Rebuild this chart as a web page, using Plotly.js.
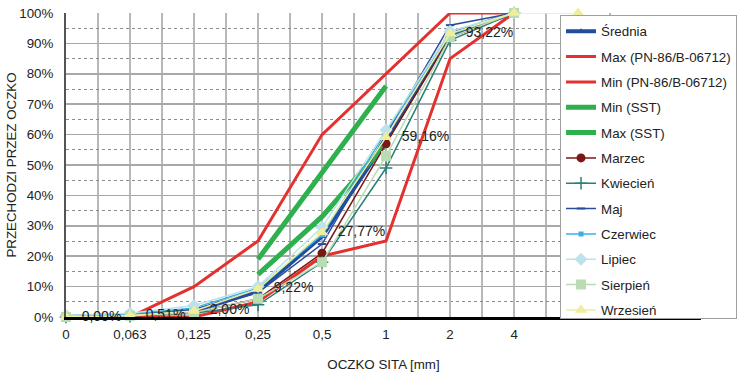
<!DOCTYPE html>
<html>
<head>
<meta charset="utf-8">
<script src="https://cdn.plot.ly/plotly-3.0.1.min.js"></script>
<style>html,body{margin:0;padding:0;background:#fff;}#chart{width:749px;height:375px;}</style>
</head>
<body>
<div id="chart"></div>
<script>
// Categories (sieve sizes, mm); the last category has no label
const categories = ['0', '0,063', '0,125', '0,25', '0,5', '1', '2', '4', ''];

// Series values (% passing)
const srednia   = [0, 0.5, 2.0, 8.5, 26.5, 58.0, 93.0, 100];
const maxPN     = [0, 0, 10, 25, 60, 80, 100, 100];
const minPN     = [0, 0, 0, 5, 20, 25, 85, 100];
const minSST    = [null, null, null, 14, 33, 57];
const maxSST    = [null, null, null, 19, 47.5, 76];
const marzec    = [0, 0.5, 1.5, 6, 21, 57, 92, 100];
const kwiecien  = [0, 0.3, 1.2, 4, 18, 49, 91, 100];
const maj       = [0, 0.8, 2.5, 8, 24, 60, 96, 100];
const czerwiec  = [0.5, 1.0, 3.0, 9.5, 27, 61, 93, 100];
const lipiec    = [0.5, 1.2, 3.8, 10, 29.5, 61.5, 94, 100];
const sierpien  = [0, 0.4, 1.5, 6, 18, 53, 92, 100];
const wrzesien  = [0, 0.51, 2.00, 9.22, 27.77, 59.16, 93.22, 100, 100];

const xs = arr => arr.map((_, i) => i);
const font = 'Liberation Sans, Arial, sans-serif';
const FS = 13.33;

function tr(name, y, color, width, marker, extra) {
  const t = {
    type: 'scatter', mode: marker ? 'lines+markers' : 'lines', name: name,
    x: xs(y), y: y, legendgroup: name, connectgaps: false,
    line: {color: color, width: width},
    hoverinfo: 'skip', cliponaxis: false
  };
  if (marker) t.marker = marker;
  return Object.assign(t, extra || {});
}

const labelText = wrzesien.map((v, i) => i < 7 ? '\u00a0\u00a0' + v.toFixed(2).replace('.', ',') + '%' : '');

const data = [
  tr('Średnia', srednia, '#1F4E9E', 4, {symbol: 'triangle-up', size: 6, color: '#1F4E9E'}),
  tr('Max (PN-86/B-06712)', maxPN, '#E4312F', 3),
  tr('Min (PN-86/B-06712)', minPN, '#E4312F', 3),
  tr('Min (SST)', minSST, '#2EB04E', 5),
  tr('Max (SST)', maxSST, '#2EB04E', 5),
  tr('Marzec', marzec, '#7A1818', 1.5, {symbol: 'circle', size: 9, color: '#7A1818'}),
  tr('Kwiecień', kwiecien, '#2A7F78', 1.5, {symbol: 'cross-thin', size: 9, color: '#2A7F78', line: {color: '#2A7F78', width: 1.5}}),
  tr('Maj', maj, '#2B4C9B', 1.5, {symbol: 'line-ew', size: 6, color: '#2B4C9B', line: {color: '#2B4C9B', width: 2}}),
  tr('Czerwiec', czerwiec, '#3CB0E0', 1.5, {symbol: 'square', size: 5, color: '#3CB0E0'}),
  tr('Lipiec', lipiec, '#BDE2EC', 1.5, {symbol: 'diamond', size: 10, color: '#BDE2EC'}),
  tr('Sierpień', sierpien, '#B9DCB3', 1.5, {symbol: 'square', size: 10, color: '#B9DCB3'}),
  tr('Wrzesień', wrzesien, '#EFEE9C', 1.5, {symbol: 'triangle-up', size: 11, color: '#EFEE9C'},
     {mode: 'lines+markers+text', text: labelText, textposition: 'middle right',
      textfont: {family: font, size: 14, color: '#222'}})
];

const tickIdx = categories.map((_, i) => i);
const minorIdx = categories.map((_, i) => i + 0.5);

const layout = {
  width: 749, height: 375,
  margin: {l: 66, r: 35, t: 13, b: 58},
  paper_bgcolor: '#fff', plot_bgcolor: '#fff',
  font: {family: font, size: FS, color: '#222'},
  showlegend: true,
  legend: {
    x: 0.778, xanchor: 'left', y: 0.993, yanchor: 'top',
    bgcolor: '#fff', bordercolor: '#A0A0A0', borderwidth: 1,
    font: {family: font, size: FS, color: '#222'},
    traceorder: 'grouped', tracegroupgap: 5
  },
  xaxis: {
    range: [0, 9.92], tickmode: 'array', tickvals: tickIdx, ticktext: categories,
    showgrid: true, gridcolor: '#B8B8B8', gridwidth: 1.5,
    minor: {tickmode: 'array', tickvals: minorIdx, showgrid: true, gridcolor: '#B8B8B8', gridwidth: 1.5},
    showline: true, linecolor: '#000', linewidth: 3, zeroline: false, ticks: '',
    ticklabelstandoff: 3,
    tickfont: {family: font, size: FS, color: '#222'},
    title: {text: 'OCZKO SITA [mm]', font: {family: font, size: FS, color: '#222'}, standoff: 19},
    fixedrange: true
  },
  yaxis: {
    range: [0, 100], dtick: 10, ticksuffix: '%',
    showgrid: true, gridcolor: '#A8A8A8', gridwidth: 1.5,
    minor: {dtick: 5, showgrid: true, gridcolor: '#8C8C8C', gridwidth: 1, griddash: 'dot'},
    showline: true, linecolor: '#555', linewidth: 2, zeroline: false, ticks: '',
    ticklabelstandoff: 8,
    tickfont: {family: font, size: FS, color: '#222'},
    title: {text: 'PRZECHODZI PRZEZ OCZKO', font: {family: font, size: FS, color: '#222'}, standoff: 0},
    fixedrange: true
  }
};

Plotly.newPlot('chart', data, layout, {displayModeBar: false, staticPlot: true});
</script>
</body>
</html>
